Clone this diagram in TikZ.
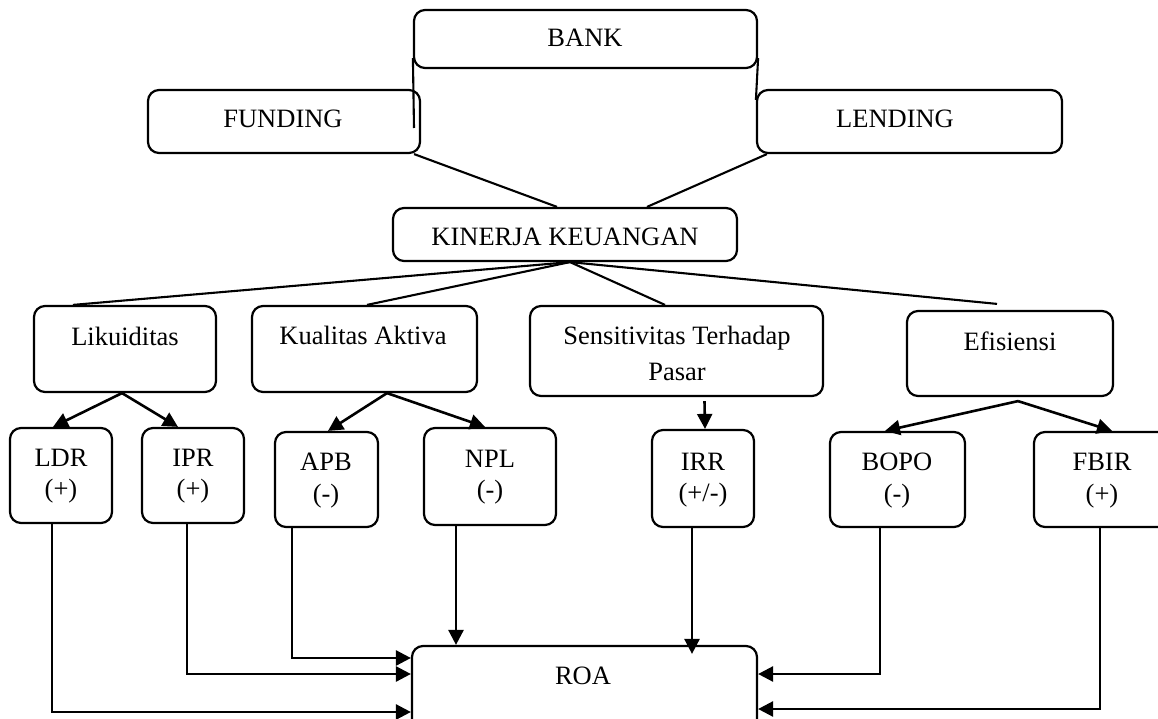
\documentclass[tikz,border=0pt]{standalone}
\usepackage{fontspec}
\setmainfont{Liberation Serif}
\usetikzlibrary{arrows.meta,calc}
\begin{document}
\begin{tikzpicture}[x=1pt,y=-1pt,
  box/.style={draw,line width=2.2pt,rounded corners=11pt,inner sep=0pt},
  lbl/.style={anchor=base,inner sep=0pt,font=\fontsize{26.5}{30}\selectfont},
  ln/.style={line width=2.1pt},
  arr/.style={line width=2.6pt,-{Triangle[length=15pt,width=15pt]}}]
\useasboundingbox (0,0) rectangle (1158,719);
% boxes
\node[box,minimum width=343pt,minimum height=58pt] (bank) at (585.5,39) {};
\node[box,minimum width=272pt,minimum height=63pt] (fund) at (284,121.5) {};
\node[box,minimum width=305pt,minimum height=63pt] (lend) at (909.5,121.5) {};
\node[box,minimum width=344pt,minimum height=53pt] (kin) at (565,234.5) {};
\node[box,minimum width=182pt,minimum height=86pt] (lik) at (125,349) {};
\node[box,minimum width=225pt,minimum height=86pt] (kual) at (364.5,349) {};
\node[box,minimum width=293pt,minimum height=90pt] (sens) at (676.5,351) {};
\node[box,minimum width=206pt,minimum height=85pt] (efi) at (1010,353.5) {};
\node[box,minimum width=102pt,minimum height=95pt] (ldr) at (61,475.5) {};
\node[box,minimum width=102pt,minimum height=95pt] (ipr) at (193,475.5) {};
\node[box,minimum width=103pt,minimum height=95pt] (apb) at (326.5,479.5) {};
\node[box,minimum width=132pt,minimum height=97pt] (npl) at (490,476.5) {};
\node[box,minimum width=102pt,minimum height=97pt] (irr) at (703,478.5) {};
\node[box,minimum width=135pt,minimum height=95pt] (bopo) at (897.5,479.5) {};
\node[box,minimum width=136pt,minimum height=95pt] (fbir) at (1102,479.5) {};
\node[box,minimum width=345pt,minimum height=114pt] (roa) at (584.5,703) {};
% texts
\node[lbl] (bankT) at (585,47) {BANK};
\node[lbl] (fundT) at (283,128) {FUNDING};
\node[lbl] (lendT) at (895,128) {LENDING};
\node[lbl] (kinT) at (565,245) {KINERJA KEUANGAN};
\node[lbl] (likT) at (125,345) {Likuiditas};
\node[lbl] (kualT) at (363,344) {Kualitas Aktiva};
\node[lbl] (sensT) at (677,344) {Sensitivitas Terhadap};
\node[lbl] (sensT2) at (677,380) {Pasar};
\node[lbl] (efiT) at (1010,350) {Efisiensi};
\node[lbl] (ldrT) at (61,466) {LDR};
\node[lbl] (ldrS) at (61,497) {(+)};
\node[lbl] (iprT) at (193,466) {IPR};
\node[lbl] (iprS) at (193,497) {(+)};
\node[lbl] (apbT) at (326,470) {APB};
\node[lbl] (apbS) at (326,502) {(-)};
\node[lbl] (nplT) at (490,467) {NPL};
\node[lbl] (nplS) at (490,498) {(-)};
\node[lbl] (irrT) at (703,470) {IRR};
\node[lbl] (irrS) at (703,501) {(+/-)};
\node[lbl] (bopoT) at (897,470) {BOPO};
\node[lbl] (bopoS) at (897,502) {(-)};
\node[lbl] (fbirT) at (1102,470) {FBIR};
\node[lbl] (fbirS) at (1102,502) {(+)};
\node[lbl] (roaT) at (583,684) {ROA};
% top connectors
\coordinate (bf) at (414,128);
\draw[ln] ([yshift=11pt]bank.south west) -- (bf);
\draw[ln] ([yshift=11pt]bank.south east) -- ([yshift=-11pt]lend.north west);
\draw[ln] ([xshift=-7pt]fund.south east) -- ([xshift=-8pt]kin.north);
\draw[ln] ([xshift=11pt]lend.south west) -- ([xshift=82pt]kin.north);
\draw[ln] ([xshift=5pt]kin.south) -- ([xshift=-52pt]lik.north);
\draw[ln] ([xshift=5pt]kin.south) -- ([xshift=2.5pt]kual.north);
\draw[ln] ([xshift=5pt]kin.south) -- ([xshift=-11.5pt]sens.north);
\draw[ln] ([xshift=5pt]kin.south) -- ([xshift=-13pt,yshift=6pt]efi.north);
% arrows to indicators
\draw[arr] ([xshift=-3pt]lik.south) -- ([xshift=-8pt]ldr.north);
\draw[arr] ([xshift=-3pt]lik.south) -- ([xshift=-15pt]ipr.north);
\draw[arr] ([xshift=22.5pt]kual.south) -- ([xshift=1.5pt]apb.north);
\draw[arr] ([xshift=22.5pt]kual.south) -- ([xshift=-5pt]npl.north);
\draw[arr] ([xshift=28pt,yshift=-4pt]sens.south) -- ([xshift=2pt]irr.north);
\draw[arr] ([xshift=8pt,yshift=-4pt]efi.south) -- ([xshift=-12.5pt]bopo.north);
\draw[arr] ([xshift=8pt,yshift=-4pt]efi.south) -- ([xshift=10pt]fbir.north);
% arrows to ROA
\draw[arr] ([xshift=-9pt]ldr.south) |- ([yshift=-9pt]roa.west);
\draw[arr] ([xshift=-6pt]ipr.south) |- ([yshift=29pt]roa.west);
\draw[arr] ([xshift=-34.5pt]apb.south) |- ([yshift=45pt]roa.west);
\draw[arr] ([xshift=-34pt]npl.south) -- ([xshift=-34pt]npl.south |- roa.north);
\draw[arr] ([xshift=-11pt]irr.south) -- ($(irr.south |- roa.north)+(-11,9)$);
\draw[arr] ([xshift=-17.5pt]bopo.south) |- ([yshift=29pt]roa.east);
\draw[arr] ([xshift=-2pt]fbir.south) |- ([yshift=-6pt]roa.east);
\end{tikzpicture}
\end{document}
